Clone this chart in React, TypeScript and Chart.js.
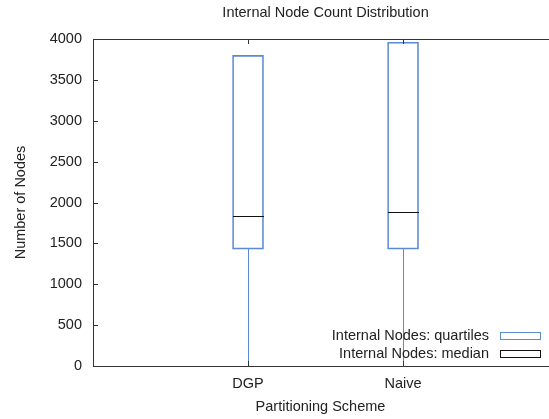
import React, { useEffect, useRef } from 'react';
import { Chart, registerables } from 'chart.js';

Chart.register(...registerables);

const categories = ['DGP', 'Naive'];
const positions = [0, 1];
const lowerQuartile = [1430, 1430];
const medians = [1840, 1880];
const upperQuartile = [3800, 3960];
const whiskerMin = [0, 0];
const whiskerMax = [3800, 3960];
const yTicks = [0, 500, 1000, 1500, 2000, 2500, 3000, 3500, 4000];

const FONT = "'Liberation Sans', Arial, sans-serif";
const FS = 14.5;
const TEXT = '#222222';
const BLUE = '#5a8ad2';
const AXIS = '#333333';

const boxPlugin = {
  id: 'boxExtras',
  afterDatasetsDraw(chart: any) {
    const { ctx, chartArea, scales } = chart;
    const xs = scales.x;
    const ys = scales.y;
    ctx.save();
    positions.forEach((p, i) => {
      const cx = Math.round(xs.getPixelForValue(p)) + 0.5;
      ctx.strokeStyle = BLUE;
      ctx.lineWidth = 1;
      ctx.beginPath();
      ctx.moveTo(cx, ys.getPixelForValue(lowerQuartile[i]));
      ctx.lineTo(cx, ys.getPixelForValue(whiskerMin[i]));
      ctx.moveTo(cx, ys.getPixelForValue(upperQuartile[i]));
      ctx.lineTo(cx, ys.getPixelForValue(whiskerMax[i]));
      ctx.stroke();
      const my = Math.round(ys.getPixelForValue(medians[i])) + 0.5;
      ctx.strokeStyle = '#111111';
      ctx.beginPath();
      ctx.moveTo(cx - 15.5, my);
      ctx.lineTo(cx + 15.5, my);
      ctx.stroke();
    });
    ctx.strokeStyle = AXIS;
    ctx.lineWidth = 1;
    ctx.beginPath();
    ctx.moveTo(chartArea.left, Math.round(chartArea.top) + 0.5);
    ctx.lineTo(chart.width, Math.round(chartArea.top) + 0.5);
    ctx.stroke();
    ctx.beginPath();
    yTicks.forEach((v) => {
      const y = Math.round(ys.getPixelForValue(v)) + 0.5;
      ctx.moveTo(chartArea.left, y);
      ctx.lineTo(chartArea.left + 5, y);
    });
    positions.forEach((p) => {
      const x = Math.round(xs.getPixelForValue(p)) + 0.5;
      ctx.moveTo(x, chartArea.bottom);
      ctx.lineTo(x, chartArea.bottom - 5);
      ctx.moveTo(x, chartArea.top);
      ctx.lineTo(x, chartArea.top + 5);
    });
    ctx.stroke();
    ctx.fillStyle = TEXT;
    ctx.font = `${FS}px ${FONT}`;
    ctx.textAlign = 'center';
    ctx.textBaseline = 'middle';
    const titleX = (chartArea.left + xs.getPixelForValue(2)) / 2;
    ctx.fillText('Internal Node Count Distribution', titleX, 13);
    const legendItems = [
      { label: 'Internal Nodes: quartiles', color: BLUE },
      { label: 'Internal Nodes: median', color: '#111111' },
    ];
    ctx.textAlign = 'right';
    legendItems.forEach((item, i) => {
      const cy = 336 + i * 17.5;
      ctx.fillStyle = TEXT;
      ctx.fillText(item.label, 489, cy);
      ctx.strokeStyle = item.color;
      ctx.strokeRect(500.5, Math.round(cy) - 3.5, 40, 7);
    });
    ctx.restore();
  },
};

export default function App() {
  const ref = useRef<HTMLCanvasElement>(null);
  useEffect(() => {
    if (!ref.current) return;
    const chart = new Chart(ref.current, {
      type: 'bar',
      data: {
        datasets: [
          {
            label: 'Internal Nodes: quartiles',
            data: positions.map((p, i) => ({ x: p, y: [lowerQuartile[i], upperQuartile[i]] })) as any,
            backgroundColor: 'rgba(255,255,255,0)',
            borderColor: BLUE,
            borderWidth: 1,
            borderSkipped: false,
            barThickness: 31,
          },
        ],
      },
      options: {
        animation: false,
        responsive: false,
        devicePixelRatio: 1,
        layout: { padding: { top: 39, right: 1, left: 0, bottom: 0 } },
        plugins: {
          legend: { display: false },
          tooltip: { enabled: false },
          title: { display: false },
        },
        scales: {
          x: {
            type: 'linear',
            offset: false,
            min: -1,
            max: 1.935,
            grid: { display: false, drawTicks: false, offset: false },
            border: { display: true, color: AXIS, width: 1 },
            afterBuildTicks: (scale: any) => {
              scale.ticks = positions.map((p) => ({ value: p }));
            },
            afterFit: (scale: any) => {
              scale.height = 53;
            },
            ticks: {
              padding: 9,
              color: TEXT,
              font: { family: FONT, size: FS },
              autoSkip: false,
              maxRotation: 0,
              callback: (v: any) => {
                const idx = positions.indexOf(Number(v));
                return idx >= 0 ? categories[idx] : '';
              },
            },
            title: {
              display: true,
              text: 'Partitioning Scheme',
              color: TEXT,
              font: { family: FONT, size: FS },
              padding: { top: 0, bottom: 3 },
            },
          },
          y: {
            type: 'linear',
            min: 0,
            max: 4000,
            grid: { display: false, drawTicks: false },
            border: { display: true, color: AXIS, width: 1 },
            afterBuildTicks: (scale: any) => {
              scale.ticks = yTicks.map((v) => ({ value: v }));
            },
            afterFit: (scale: any) => {
              scale.width = 93;
            },
            ticks: {
              padding: 11,
              color: TEXT,
              font: { family: FONT, size: FS },
              callback: (v: any) => String(v),
            },
            title: {
              display: true,
              text: 'Number of Nodes',
              color: TEXT,
              font: { family: FONT, size: FS },
              padding: { top: 12, bottom: 0 },
            },
          },
        },
      },
      plugins: [boxPlugin],
    });
    return () => chart.destroy();
  }, []);
  return (
    <div style={{ position: 'fixed', left: 0, top: 0 }}>
      <canvas ref={ref} width={549} height={419} style={{ display: 'block' }} />
    </div>
  );
}
